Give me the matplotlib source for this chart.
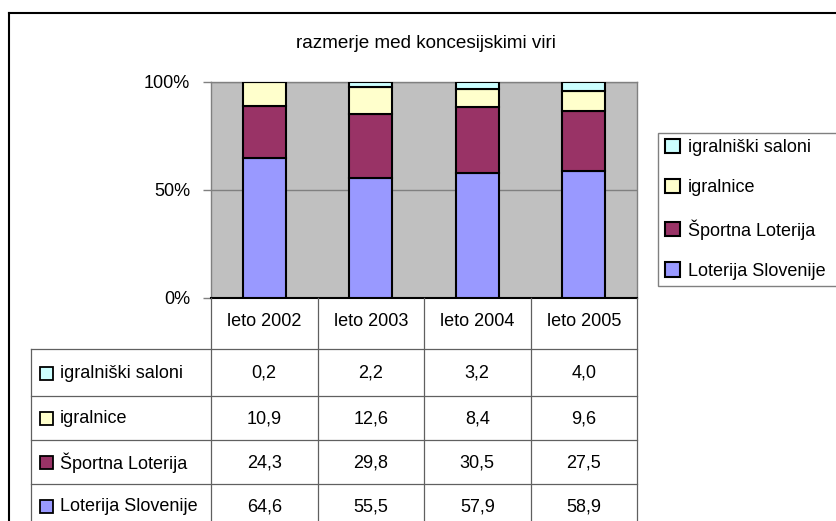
import numpy as np
import matplotlib
matplotlib.use("Agg")
import matplotlib.pyplot as plt
from matplotlib.patches import Rectangle
from matplotlib import transforms

plt.rcParams['font.family'] = ['Liberation Sans', 'DejaVu Sans']

# ---- data ----
years = ['leto 2002', 'leto 2003', 'leto 2004', 'leto 2005']
series_names = ['igralniški saloni', 'igralnice', 'Športna Loterija', 'Loterija Slovenije']
igralniski_saloni = [0.2, 2.2, 3.2, 4.0]
igralnice = [10.9, 12.6, 8.4, 9.6]
sportna_loterija = [24.3, 29.8, 30.5, 27.5]
loterija_slovenije = [64.6, 55.5, 57.9, 58.9]
series_values = [igralniski_saloni, igralnice, sportna_loterija, loterija_slovenije]
colors = ['#CCFFFF', '#FFFFCC', '#993366', '#9999FF']
yticks = [0, 50, 100]
ytick_labels = ['0%', '50%', '100%']
title = 'razmerje med koncesijskimi viri'

W, H = 836, 521
FS = 13
fig = plt.figure(figsize=(W / 100, H / 100), dpi=100)
fig.patch.set_facecolor('white')

# main chart axes (pixel layout)
px0, px1, py0, py1 = 211, 637, 82, 298
ax = fig.add_axes([px0 / W, 1 - py1 / H, (px1 - px0) / W, (py1 - py0) / H])
ax.set_facecolor('#C0C0C0')

vals = np.array(series_values, dtype=float)
totals = vals.sum(axis=0)
pct = vals / totals * 100
xs = np.arange(len(years))
bottom = np.zeros(len(years))
bars = {}
for i in reversed(range(len(series_names))):
    b = ax.bar(xs, pct[i], 0.4, bottom=bottom, color=colors[i], edgecolor='black',
               linewidth=1.5, zorder=3, label=series_names[i])
    bars[i] = b
    bottom += pct[i]

ax.set_xlim(-0.5, len(years) - 0.5)
ax.set_ylim(0, 100)
ax.set_yticks(yticks)
ax.set_yticklabels(ytick_labels)
ax.set_xticks([])
ax.yaxis.grid(True, color='#808080', linewidth=1)
ax.set_axisbelow(True)
ax.tick_params(axis='y', length=5.8, width=1, color='#808080', pad=9.2, labelsize=FS)
for s in ['left', 'right', 'top']:
    ax.spines[s].set_color('#808080')
    ax.spines[s].set_linewidth(1)
ax.spines['bottom'].set_color('black')
ax.spines['bottom'].set_linewidth(1.5)

# legend
handles = [bars[i] for i in range(len(series_names))]
leg = ax.legend(handles, series_names, loc='upper left',
                bbox_to_anchor=(658 / W, 1 - 132.5 / H, 220 / W, 0),
                bbox_transform=fig.transFigure, mode='expand',
                fancybox=False, shadow=False, framealpha=1, edgecolor='#808080',
                handlelength=0.85, handleheight=0.85, handletextpad=0.45,
                labelspacing=1.25, borderpad=0.36, borderaxespad=0, fontsize=FS)
leg.get_frame().set_linewidth(1)

# overlay in pixel coords for title, border, data table
ov = fig.add_axes([0, 0, 1, 1])
ov.set_xlim(0, W)
ov.set_ylim(H, 0)
ov.axis('off')

ov.text(426, 44, title, ha='center', va='center', fontsize=13.6)

# outer border
ov.plot([9, 9], [13, H + 10], color='black', lw=1.5, solid_capstyle='projecting')
ov.plot([9, W + 10], [13, 13], color='black', lw=1.5, solid_capstyle='projecting')

# data table
bt = transforms.blended_transform_factory(ax.transData, ov.transData)
line_c = '#606060'
header_top = 298
row_edges = [349, 395.5, 439.5, 483.5, 527.5]
for k in range(len(years) + 1):
    ov.plot([k - 0.5, k - 0.5], [header_top, H + 10], color=line_c, lw=0.9, transform=bt)
for y in row_edges:
    ov.plot([31, px1], [y, y], color=line_c, lw=0.9)
ov.plot([31, 31], [row_edges[0], H + 10], color=line_c, lw=0.9)

for j, yr in enumerate(years):
    ov.text(j, 322, yr, ha='center', va='center', fontsize=FS, transform=bt)

for r, name in enumerate(series_names):
    yc = (row_edges[r] + row_edges[r + 1]) / 2 + 1
    ov.add_patch(Rectangle((40, yc - 6.5), 13, 13, facecolor=colors[r],
                           edgecolor='black', lw=1.3))
    ov.text(60, yc, name, ha='left', va='center', fontsize=FS)
    for j in range(len(years)):
        ov.text(j, yc, f"{series_values[r][j]:.1f}".replace('.', ','),
                ha='center', va='center', fontsize=FS, transform=bt)

fig.savefig('out.png', dpi=100)
